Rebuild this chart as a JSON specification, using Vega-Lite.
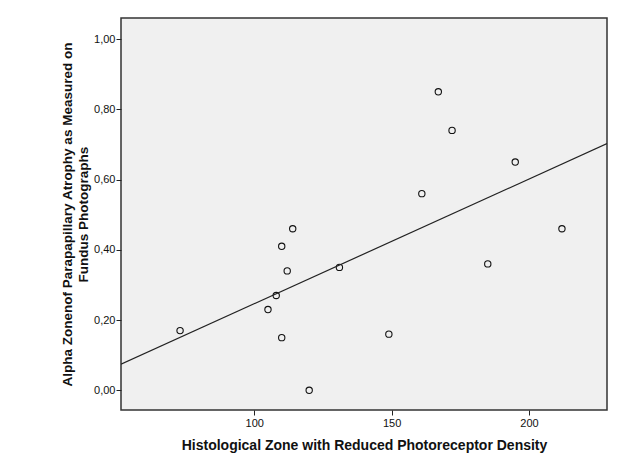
{
  "$schema": "https://vega.github.io/schema/vega-lite/v6.json",
  "autosize": {"type": "none"},
  "padding": {"left": 121, "top": 18, "right": 37, "bottom": 47},
  "width": 486,
  "height": 392,
  "background": "white",
  "data": {
    "values": [
      {"x": 73, "y": 0.17},
      {"x": 105, "y": 0.23},
      {"x": 108, "y": 0.27},
      {"x": 110, "y": 0.41},
      {"x": 110, "y": 0.15},
      {"x": 112, "y": 0.34},
      {"x": 114, "y": 0.46},
      {"x": 120, "y": 0.0},
      {"x": 131, "y": 0.35},
      {"x": 149, "y": 0.16},
      {"x": 161, "y": 0.56},
      {"x": 167, "y": 0.85},
      {"x": 172, "y": 0.74},
      {"x": 185, "y": 0.36},
      {"x": 195, "y": 0.65},
      {"x": 212, "y": 0.46}
    ]
  },
  "encoding": {
    "x": {
      "field": "x",
      "type": "quantitative",
      "scale": {"domain": [51.5, 228.4], "nice": false, "zero": false},
      "axis": {
        "title": "Histological Zone with Reduced Photoreceptor Density",
        "values": [100, 150, 200],
        "domain": false,
        "grid": false,
        "tickColor": "#222",
        "tickSize": 5,
        "labelFont": "Liberation Sans",
        "labelFontSize": 11,
        "labelColor": "#111",
        "labelPadding": 2,
        "titleFont": "Liberation Sans",
        "titleFontSize": 14,
        "titleFontWeight": "bold",
        "titleColor": "#111",
        "titlePadding": 10
      }
    },
    "y": {
      "field": "y",
      "type": "quantitative",
      "scale": {"domain": [-0.056, 1.06], "nice": false, "zero": false},
      "axis": {
        "title": ["Alpha Zonenof Parapapillary Atrophy as Measured on", "Fundus Photographs"],
        "values": [0, 0.2, 0.4, 0.6, 0.8, 1.0],
        "labelExpr": "replace(format(datum.value, '.2f'), '.', ',')",
        "domain": false,
        "grid": false,
        "tickColor": "#222",
        "tickSize": 5,
        "labelFont": "Liberation Sans",
        "labelFontSize": 11,
        "labelColor": "#111",
        "labelPadding": 1,
        "titleFont": "Liberation Sans",
        "titleFontSize": 13.5,
        "titleFontWeight": "bold",
        "titleColor": "#111",
        "titleLineHeight": 16,
        "titlePadding": 3
      }
    }
  },
  "layer": [
    {
      "mark": {"type": "point", "shape": "circle", "filled": false, "color": "#111", "size": 40, "strokeWidth": 1.1, "opacity": 1}
    },
    {
      "transform": [{"regression": "y", "on": "x", "extent": [51.5, 228.4]}],
      "mark": {"type": "line", "color": "#222", "strokeWidth": 1.2, "clip": true}
    }
  ],
  "config": {
    "view": {"fill": "#f0f0f0", "stroke": "#333", "strokeWidth": 1.5}
  }
}
